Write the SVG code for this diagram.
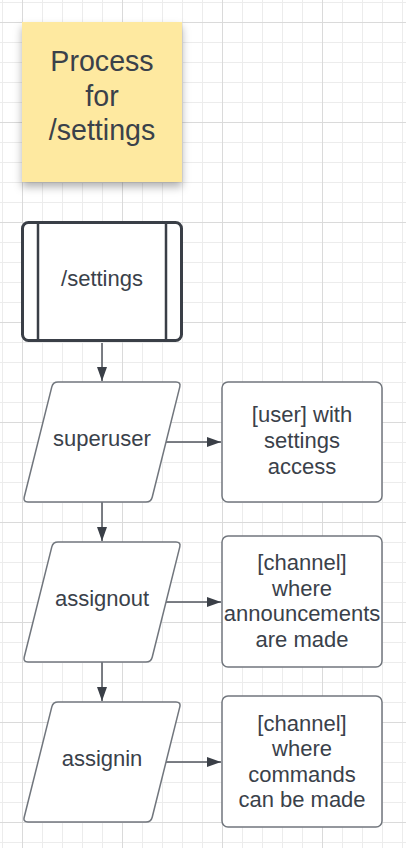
<svg xmlns="http://www.w3.org/2000/svg" xmlns:xlink="http://www.w3.org/1999/xlink" width="406" height="848" viewBox="0 0 406 848">
<style>
.t{font-family:"Liberation Sans",Arial,sans-serif;fill:#3a414a;text-anchor:middle;font-size:22px}
.st{font-size:28.6px}
.shape{fill:#fff;stroke:#71767d;stroke-width:1.5}
.con{stroke:#50555c;stroke-width:1.5;fill:none}
</style>
<defs>
<pattern id="minor" width="20" height="20" patternUnits="userSpaceOnUse" x="2" y="2">
<path d="M0.5 0V20M0 0.5H20" stroke="#ececec" stroke-width="1" fill="none"/>
</pattern>
<pattern id="major" width="100" height="100" patternUnits="userSpaceOnUse" x="22" y="22">
<path d="M0.5 0V100M0 0.5H100" stroke="#dadada" stroke-width="1" fill="none"/>
</pattern>
<filter id="shadow" x="-20%" y="-20%" width="140%" height="150%">
<feDropShadow dx="0" dy="5" stdDeviation="4" flood-color="#000" flood-opacity="0.3"/>
</filter>
<marker id="ah" viewBox="0 0 14 10" refX="14" refY="5" markerWidth="14" markerHeight="10" markerUnits="userSpaceOnUse" orient="auto">
<path d="M0 0L14 5L0 10Z" fill="#3a3f47"/>
</marker>
<path id="para" d="M58 382L176 382Q181 382 179.8 386.9L152.2 497.2Q151 502 146 502L28 502Q23 502 24.2 497.2L51.8 386.9Q53 382 58 382Z"/>
</defs>
<rect width="406" height="848" fill="#fff"/>
<rect width="406" height="848" fill="url(#minor)"/>
<rect width="406" height="848" fill="url(#major)"/>

<g id="connectors">
<line class="con" x1="102" y1="343" x2="102" y2="381" marker-end="url(#ah)"/>
<line class="con" x1="102" y1="502" x2="102" y2="541" marker-end="url(#ah)"/>
<line class="con" x1="102" y1="662" x2="102" y2="701" marker-end="url(#ah)"/>
<line class="con" x1="166" y1="442" x2="221" y2="442" marker-end="url(#ah)"/>
<line class="con" x1="166" y1="602" x2="221" y2="602" marker-end="url(#ah)"/>
<line class="con" x1="166" y1="762" x2="221" y2="762" marker-end="url(#ah)"/>
</g>

<g id="sticky">
<rect x="22" y="22" width="160" height="160" fill="#fee9a0" filter="url(#shadow)"/>
<text class="t st" x="102" y="71">Process</text>
<text class="t st" x="102" y="105.5">for</text>
<text class="t st" x="102" y="140">/settings</text>
</g>

<g id="settings">
<rect x="22.5" y="222.5" width="159" height="118" rx="6" fill="#fff" stroke="#3a3f47" stroke-width="3"/>
<line x1="38" y1="222.5" x2="38" y2="340.5" stroke="#3a3f47" stroke-width="2.5"/>
<line x1="166" y1="222.5" x2="166" y2="340.5" stroke="#3a3f47" stroke-width="2.5"/>
<text class="t" x="102" y="286">/settings</text>
</g>

<g id="superuser">
<use xlink:href="#para" class="shape"/>
<text class="t" x="102" y="446">superuser</text>
</g>
<g id="user-box">
<rect class="shape" x="222" y="382" width="160" height="120" rx="6"/>
<text class="t" x="302" y="421.5">[user] with</text>
<text class="t" x="302" y="447.5">settings</text>
<text class="t" x="302" y="473.5">access</text>
</g>

<g id="assignout">
<use xlink:href="#para" class="shape" y="160"/>
<text class="t" x="102" y="606">assignout</text>
</g>
<g id="out-box">
<rect class="shape" x="222" y="536" width="160" height="131" rx="6"/>
<text class="t" x="302" y="570">[channel]</text>
<text class="t" x="302" y="595.5">where</text>
<text class="t" x="302" y="621">announcements</text>
<text class="t" x="302" y="646.5">are made</text>
</g>

<g id="assignin">
<use xlink:href="#para" class="shape" y="320"/>
<text class="t" x="102" y="766">assignin</text>
</g>
<g id="in-box">
<rect class="shape" x="222" y="696" width="160" height="131" rx="6"/>
<text class="t" x="302" y="730.5">[channel]</text>
<text class="t" x="302" y="756">where</text>
<text class="t" x="302" y="781.5">commands</text>
<text class="t" x="302" y="807">can be made</text>
</g>
</svg>
